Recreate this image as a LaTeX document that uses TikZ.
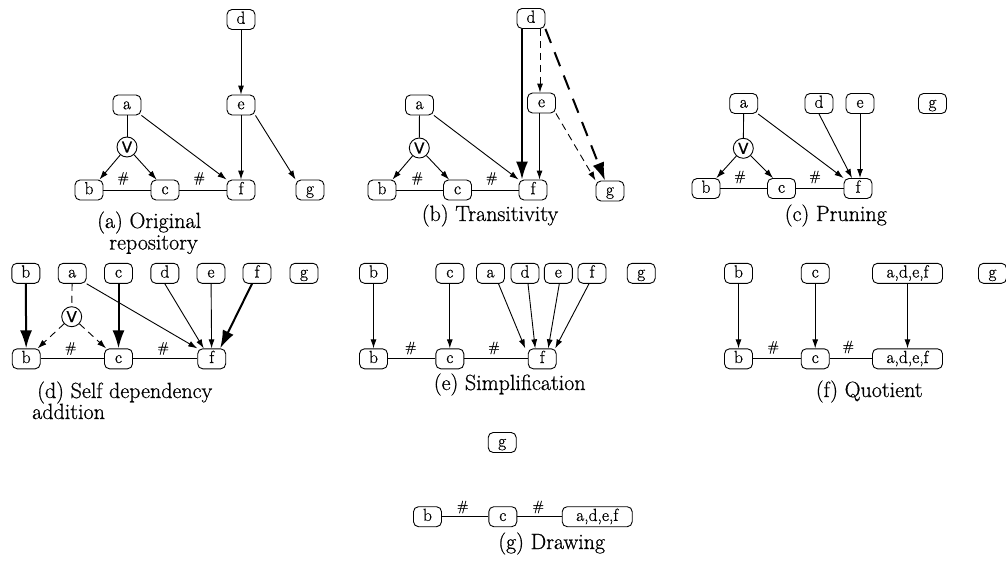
\documentclass[tikz,border=0pt]{standalone}
\usepackage{fontspec}
\newfontfamily\dejavusans{DejaVu Sans}[FakeBold=0.8]
\newfontfamily\heavylm{Latin Modern Roman}[FakeBold=0.7]
\usetikzlibrary{arrows.meta}
\begin{document}
\begin{tikzpicture}[x=1pt,y=-1pt,
 box/.style={draw, rounded corners=5pt, line width=0.9pt, minimum width=28pt, minimum height=20pt, inner xsep=9pt, inner ysep=0pt, text height=12pt, text depth=3.6pt, font=\heavylm\fontsize{17.5}{18}\selectfont},
 wide/.style={box, minimum width=70pt},
 orn/.style={draw, circle, line width=0.9pt, minimum size=20pt, inner sep=0pt, font=\dejavusans\fontsize{15}{15}\selectfont},
 hs/.style={inner sep=0pt, font=\heavylm\fontsize{14}{14}\selectfont},
 capt/.style={inner sep=0pt, font=\heavylm\fontsize{22}{22}\selectfont},
 ln/.style={line width=0.9pt},
 ar/.style={ln, -{Latex[length=9pt,width=6pt]}},
 thk/.style={line width=2pt, -{Latex[length=18pt,width=12pt]}},
 dsh/.style={dash pattern=on 7pt off 5pt},
 ldsh/.style={dash pattern=on 15pt off 10pt},
]
\useasboundingbox (0,0) rectangle (1006,562);

% ---------- (a) ----------
\node[box] (Ad) at (241,19.5) {d};
\node[box] (Ae) at (241,105) {e};
\node[box] (Aa) at (127,105) {a};
\node[orn] (AV) at (127,147) {V};
\node[box] (Ab) at (89,190) {b};
\node[box] (Ac) at (165,190) {c};
\node[box] (Af) at (241,190) {f};
\node[box] (Ag) at (310,190) {g};
\node[hs] (Ah1) at (123.3,178.5) {\#};
\node[hs] (Ah2) at (199.3,178.5) {\#};
\draw[ar] (Ad) -- (Ae);
\draw[ar] (Ae) -- (Af);
\draw[ar] (Ae.south east) -- (Ag.north west);
\draw[ar] (Aa.south east) -- (Af.north west);
\draw[ln] (Aa) -- (AV);
\draw[ar] (AV) -- ([xshift=-4pt]Ab.north east);
\draw[ar] (AV) -- ([xshift=6pt]Ac.north west);
\draw[ln] (Ab) -- (Ac);
\draw[ln] (Ac) -- (Af);
\node[capt, anchor=base west] (Acap1) at (97,228) {(a) Original};
\node[capt, anchor=base] (Acap2) at (153.5,249.5) {repository};

% ---------- (b) ----------
\node[box] (Bd) at (531,18.5) {d};
\node[box] (Be) at (541.5,103) {e};
\node[box] (Ba) at (419.5,105) {a};
\node[orn] (BV) at (419.3,148) {V};
\node[box] (Bb) at (382,190) {b};
\node[box] (Bc) at (457.5,190) {c};
\node[box] (Bf) at (533,190) {f};
\node[box] (Bg) at (610,191) {g};
\node[hs] (Bh1) at (417.3,178.5) {\#};
\node[hs] (Bh2) at (491.7,178.5) {\#};
\draw[thk] ([xshift=-9pt]Bd.south) -- ([xshift=-11pt]Bf.north);
\draw[ar,dsh] ([xshift=9pt]Bd.south) -- ([xshift=-1.5pt]Be.north);
\draw[thk,ldsh] (Bd.south east) -- ([xshift=-5pt]Bg.north);
\draw[ar] ([xshift=-2pt]Be.south) -- ([xshift=6.5pt]Bf.north);
\draw[ar,dsh] (Be.south east) -- (Bg.north west);
\draw[ar] (Ba.south east) -- (Bf.north west);
\draw[ln] (Ba) -- (BV);
\draw[ar] (BV) -- ([xshift=-4pt]Bb.north east);
\draw[ar] (BV) -- ([xshift=6pt]Bc.north west);
\draw[ln] (Bb) -- (Bc);
\draw[ln] (Bc) -- (Bf);
\node[capt, anchor=base] (Bcap) at (490,221) {(b) Transitivity};

% ---------- (c) ----------
\node[box] (Ca) at (743.7,103.5) {a};
\node[box] (Cd) at (819,103.5) {d};
\node[box] (Ce) at (860,103.5) {e};
\node[box] (Cg) at (932.5,103.5) {g};
\node[orn] (CV) at (743.3,148.3) {V};
\node[box] (Cb) at (706,188.5) {b};
\node[box] (Cc) at (781.5,188.5) {c};
\node[box] (Cf) at (858,188.5) {f};
\node[hs] (Ch1) at (740,177) {\#};
\node[hs] (Ch2) at (815,177) {\#};
\draw[ar] (Ca.south east) -- (Cf.north west);
\draw[ar] (Cd.south) -- ([xshift=-6pt]Cf.north);
\draw[ar] (Ce.south) -- ([xshift=2pt]Cf.north);
\draw[ln] (Ca) -- (CV);
\draw[ar] (CV) -- ([xshift=-4pt]Cb.north east);
\draw[ar] (CV) -- ([xshift=6pt]Cc.north west);
\draw[ln] (Cb) -- (Cc);
\draw[ln] (Cc) -- (Cf);
\node[capt, anchor=base] (Ccap) at (835.8,221) {(c) Pruning};

% ---------- (d) ----------
\node[box] (Db1) at (25.8,273.3) {b};
\node[box] (Da) at (72.2,273.3) {a};
\node[box] (Dc1) at (118.5,273.3) {c};
\node[box] (Dd) at (164.8,273.3) {d};
\node[box] (De) at (211,273.3) {e};
\node[box] (Df1) at (257,273.3) {f};
\node[box] (Dg) at (304,273.3) {g};
\node[orn] (DV) at (71.7,316.7) {V};
\node[box] (Db2) at (26.2,358.8) {b};
\node[box] (Dc2) at (118.5,358.8) {c};
\node[box] (Df2) at (211.7,358.8) {f};
\node[hs] (Dh1) at (70.7,348.5) {\#};
\node[hs] (Dh2) at (163.3,348.5) {\#};
\draw[thk] (Db1) -- (Db2);
\draw[thk] (Dc1) -- (Dc2);
\draw[ln,dsh] (Da) -- (DV);
\draw[ar,dsh] (DV) -- ([xshift=-3pt]Db2.north east);
\draw[ar,dsh] (DV) -- ([xshift=2pt]Dc2.north west);
\draw[ar] (Da.south east) -- (Df2.north west);
\draw[ar] (Dd.south) -- ([xshift=-8pt]Df2.north);
\draw[ar] (De) -- (Df2);
\draw[thk] ([xshift=-5pt]Df1.south) -- ([xshift=-6pt]Df2.north east);
\draw[ln] (Db2) -- (Dc2);
\draw[ln] (Dc2) -- (Df2);
\node[capt, anchor=base west] (Dcap1) at (37,398) {(d) Self dependency};
\node[capt, anchor=base west] (Dcap2) at (32,419) {addition};

% ---------- (e) ----------
\node[box] (Eb1) at (373.5,273.3) {b};
\node[box] (Ec1) at (449.8,273.3) {c};
\node[box] (Ea) at (490.5,273.3) {a};
\node[box] (Ed) at (525,273.3) {d};
\node[box] (Ee) at (558.3,273.3) {e};
\node[box] (Ef1) at (592,273.3) {f};
\node[box] (Eg) at (641.2,273.3) {g};
\node[box] (Eb2) at (373.5,358.8) {b};
\node[box] (Ec2) at (449.8,358.8) {c};
\node[box] (Ef2) at (542.2,358.8) {f};
\node[hs] (Eh1) at (410.7,348) {\#};
\node[hs] (Eh2) at (494,348) {\#};
\draw[ar] (Eb1) -- (Eb2);
\draw[ar] (Ec1) -- (Ec2);
\draw[ar] ([xshift=8pt]Ea.south) -- ([xshift=-17pt]Ef2.north);
\draw[ar] ([xshift=3pt]Ed.south) -- ([xshift=-7pt]Ef2.north);
\draw[ar] ([xshift=1pt]Ee.south) -- ([xshift=6pt]Ef2.north);
\draw[ar] ([xshift=-3pt]Ef1.south) -- ([xshift=13pt]Ef2.north);
\draw[ln] (Eb2) -- (Ec2);
\draw[ln] (Ec2) -- (Ef2);
\node[capt, anchor=base] (Ecap) at (509.7,390) {(e) Simplification};

% ---------- (f) ----------
\node[box] (Fb1) at (738.5,273.3) {b};
\node[box] (Fc1) at (815.2,273.3) {c};
\node[wide] (Fx1) at (907.5,273.3) {a,d,e,f};
\node[box] (Fg) at (992.5,273.3) {g};
\node[box] (Fb2) at (738.5,358.8) {b};
\node[box] (Fc2) at (815.2,358.8) {c};
\node[wide] (Fx2) at (907.5,358.8) {a,d,e,f};
\node[hs] (Fh1) at (773.3,347.5) {\#};
\node[hs] (Fh2) at (848.3,347) {\#};
\draw[ar] (Fb1) -- (Fb2);
\draw[ar] (Fc1) -- (Fc2);
\draw[ar] (Fx1) -- (Fx2);
\draw[ln] (Fb2) -- (Fc2);
\draw[ln] (Fc2) -- (Fx2);
\node[capt, anchor=base] (Fcap) at (869.2,397) {(f) Quotient};

% ---------- (g) ----------
\node[box] (Gg) at (502.2,442.5) {g};
\node[box] (Gb) at (427.5,516.7) {b};
\node[box] (Gc) at (502.8,516.7) {c};
\node[wide] (Gx) at (597.2,516.7) {a,d,e,f};
\node[hs] (Gh1) at (462.7,507) {\#};
\node[hs] (Gh2) at (538.3,507) {\#};
\draw[ln] (Gb) -- (Gc);
\draw[ln] (Gc) -- (Gx);
\node[capt, anchor=base] (Gcap) at (551.7,549) {(g) Drawing};
\end{tikzpicture}
\end{document}
